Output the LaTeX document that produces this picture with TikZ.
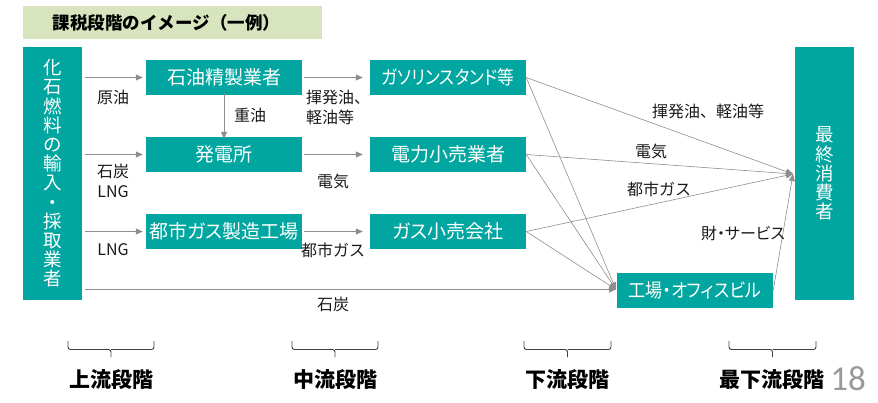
\documentclass[tikz,border=0pt]{standalone}
\usepackage{fontspec}
\setmainfont{Noto Sans CJK JP}
\newfontfamily\boxfont{Noto Sans CJK JP}[RawFeature=+palt]
\newfontfamily\numfont{Carlito}
\usetikzlibrary{arrows.meta}
\definecolor{tealbox}{HTML}{00A69F}
\definecolor{titlebg}{HTML}{D7E4BD}
\definecolor{arrgray}{HTML}{8E8E8E}
\definecolor{bracegray}{HTML}{404040}
\definecolor{txt}{HTML}{1A1A1A}
\definecolor{numgray}{HTML}{999999}
\begin{document}
\begin{tikzpicture}[x=1pt,y=-1pt,
  box/.style={fill=tealbox, text=white, inner sep=0pt, minimum width=156pt, minimum height=35pt, font=\boxfont\fontsize{19}{20}\selectfont},
  tallbox/.style={fill=tealbox, text=white, inner sep=0pt, minimum width=59pt, minimum height=253pt, align=center, font=\fontsize{18.5}{19.2}\selectfont},
  lbl/.style={text=txt, inner sep=0pt, font=\fontsize{16}{20}\selectfont},
  conn/.style={draw=arrgray, line width=0.8pt, -{Triangle[length=7pt,width=6pt]}},
  thin/.style={draw=arrgray, line width=0.6pt, -{Triangle[length=7pt,width=6pt]}},
  stagebrace/.style={draw=bracegray, line width=0.9pt, rounded corners=2.5pt},
  stage/.style={text=black, inner sep=0pt, font=\bfseries\fontsize{21}{24}\selectfont}
]
\useasboundingbox (0,0) rectangle (878,402);

% title
\node[fill=titlebg, minimum width=299pt, minimum height=33pt, inner sep=0pt,
      font=\bfseries\fontsize{17.5}{20}\selectfont, text=black] (title) at (172.5,22.5) {課税段階のイメージ（一例）\hspace*{12pt}};

% boxes
\node[tallbox] (src) at (52.5,173.5) {化\\石\\燃\\料\\の\\輸\\入\\・\\採\\取\\業\\者};
\node[tallbox] (cons) at (824.5,173.5) {最\\終\\消\\費\\者};

\node[box] (oil) at (224,77.5) {石油精製業者};
\node[box] (pow) at (224,154.5) {発電所};
\node[box] (gasf) at (224,231.5) {都市ガス製造工場};
\node[box] (gs) at (448,77.5) {\scalebox{0.88}[1]{ガソリンスタンド等}};
\node[box] (elr) at (448,154.5) {電力小売業者};
\node[box] (gasr) at (448,231.5) {ガス小売会社};
\node[box] (fac) at (695,290.5) {\scalebox{0.9}[1]{工場・オフィスビル}};

% helper points
\coordinate (consin) at (793,174);
\coordinate (facin) at (616,289.5);
\coordinate (s1) at ([xshift=3pt]src.east |- oil);
\coordinate (s2) at ([xshift=3pt]src.east |- pow);
\coordinate (s3) at ([xshift=3pt]src.east |- gasf);
\coordinate (s4) at ([xshift=3pt]src.east |- facin);

% upstream arrows
\draw[conn] (s1) -- ([xshift=-3pt]oil.west);
\draw[conn] (s2) -- ([xshift=-3pt]pow.west);
\draw[conn] (s3) -- ([xshift=-3pt]gasf.west);
\draw[conn] (s4) -- (facin);
\draw[conn] ([yshift=2pt]oil.south) -- ([yshift=-2pt]pow.north);

% midstream arrows
\draw[conn] ([xshift=2pt]oil.east) -- ([xshift=-7pt]gs.west);
\draw[conn] ([xshift=2pt]pow.east) -- ([xshift=-7pt]elr.west);
\draw[conn] ([xshift=2pt]gasf.east) -- ([xshift=-7pt]gasr.west);

% downstream arrows
\draw[thin] (gs.east) -- (consin);
\draw[thin] (elr.east) -- (consin);
\draw[thin] (gasr.east) -- (consin);
\draw[thin] (gs.east) -- (facin);
\draw[thin] (elr.east) -- (facin);
\draw[thin] (gasr.east) -- (facin);
\draw[thin] (fac.east) -- (consin);

% labels
\node[lbl] (l1) at (113,97) {原油};
\node[lbl, align=center] (l2) at (113,181) {石炭\\LNG};
\node[lbl] (l3) at (113,250) {LNG};
\node[lbl] (l4) at (250,115) {重油};
\node[lbl, align=left, anchor=west] (l5) at (306,107) {揮発油、\\軽油等};
\node[lbl] (l6) at (333,181) {電気};
\node[lbl] (l7) at (333,250) {都市ガス};
\node[lbl] (l8) at (333,304) {石炭};
\node[lbl] (l9) at (708,111) {揮発油、軽油等};
\node[lbl] (l10) at (651,151) {電気};
\node[lbl] (l11) at (659,189) {都市ガス};
\node[lbl, font=\boxfont\fontsize{16}{20}\selectfont] (l12) at (743,233) {財・サービス};

% stage braces
\foreach \a/\b in {68/154, 292/378, 524/611, 729/816}{
  \pgfmathsetmacro{\m}{(\a+\b)/2}
  \draw[stagebrace] (\a,341) |- (\m,349.5) -- (\m,357);
  \draw[stagebrace] (\m,349.5) -| (\b,341);
}
\node[stage] (st1) at (111,380) {上流段階};
\node[stage] (st2) at (335,380) {中流段階};
\node[stage] (st3) at (567,380) {下流段階};
\node[stage] (st4) at (772,380) {最下流段階};
\node[text=numgray, inner sep=0pt, font=\numfont\fontsize{35}{36}\selectfont] (pg) at (848,379) {18};
\end{tikzpicture}
\end{document}
